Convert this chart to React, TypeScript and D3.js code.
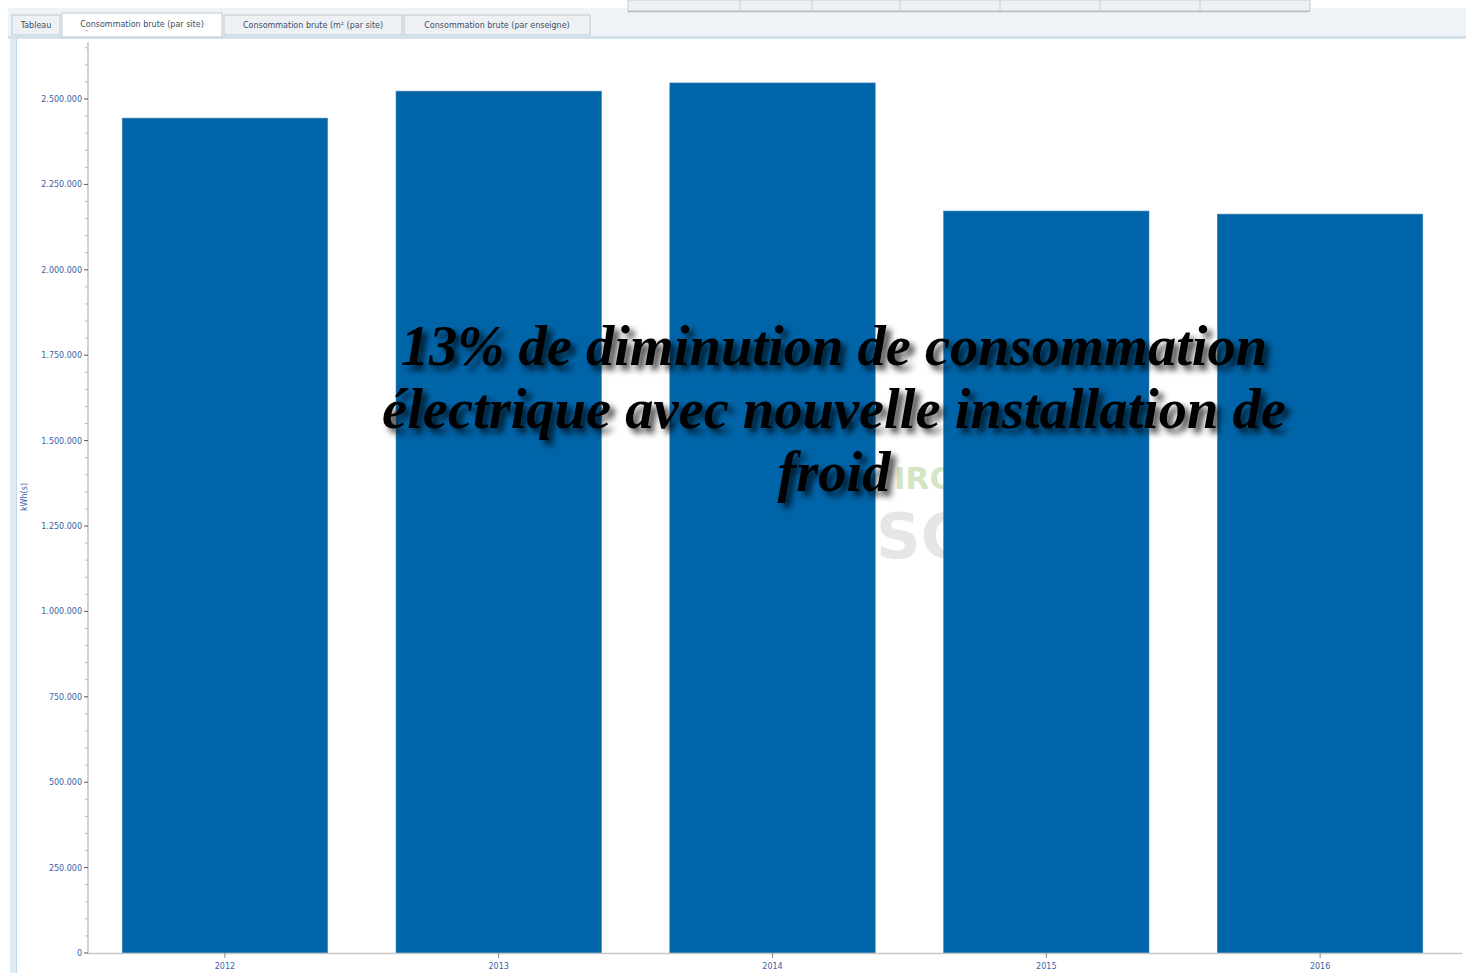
import React from "react";
import * as d3 from "d3";

const years = ["2012", "2013", "2014", "2015", "2016"];
const consumption = [2444000, 2523000, 2547000, 2172000, 2163000];
const yTicks = [0, 250000, 500000, 750000, 1000000, 1250000, 1500000, 1750000, 2000000, 2250000, 2500000];
const tabs = ["Tableau", "Consommation brute (par site)", "Consommation brute (m² (par site)", "Consommation brute (par enseigne)"];
const tabWidths = [48, 160, 178, 186];
const overlayLines = ["13% de diminution de consommation", "électrique avec nouvelle installation de", "froid"];

const W = 1466;
const H = 973;
const left = 88;
const right = 1457;
const top = 99;
const bottom = 953;

const fmt = (v: number) => d3.format(",")(v).replace(/,/g, ".");

export default function App() {
  const x = d3.scaleBand<string>().domain(years).range([left, right]).paddingInner(0.25).paddingOuter(0.125);
  const y = d3.scaleLinear().domain([0, 2500000]).range([bottom, top]);
  const minorTicks = d3.range(0, 2700001, 50000).filter((v) => v % 250000 !== 0);

  let tx = 12;
  const tabPos = tabWidths.map((w) => {
    const p = tx;
    tx += w + 2;
    return p;
  });

  return (
    <svg width={W} height={H} style={{ position: "absolute", left: 0, top: 0, background: "#fff" }}>
      <defs>
        <filter id="shadow" x="-10%" y="-30%" width="120%" height="160%">
          <feDropShadow dx="5" dy="5" stdDeviation="3" floodColor="#000" floodOpacity="0.75" />
        </filter>
      </defs>
      <rect x={0} y={0} width={W} height={H} fill="#fff" />
      {/* top toolbar */}
      <rect x={8} y={8} width={W - 8} height={30} fill="#f0f3f6" />
      <rect x={628} y={0} width={682} height={11} fill="#eef1f4" stroke="#c8cdd2" strokeWidth={1} />
      {[740, 812, 900, 1000, 1100, 1200].map((v) => (
        <line key={v} x1={v} x2={v} y1={0} y2={10} stroke="#c8cdd2" />
      ))}
      <line x1={628} x2={1310} y1={11.5} y2={11.5} stroke="#b8bcc0" strokeWidth={1.5} />
      <rect x={8} y={36} width={W - 8} height={3} fill="#d4e2ec" />
      {/* tabs */}
      {tabs.map((t, i) => (
        <g key={t}>
          <rect
            x={tabPos[i]}
            y={i === 1 ? 13 : 15}
            width={tabWidths[i]}
            height={i === 1 ? 24 : 20}
            fill={i === 1 ? "#ffffff" : "#eef1f4"}
            stroke="#b9c8d4"
            strokeWidth={1}
          />
          <text
            x={tabPos[i] + tabWidths[i] / 2}
            y={i === 1 ? 27 : 28}
            textAnchor="middle"
            fontFamily="DejaVu Sans, sans-serif"
            fontSize={8}
            fill="#3a4f6a"
          >
            {t}
          </text>
        </g>
      ))}
      {/* left panel border */}
      <rect x={10} y={39} width={6} height={H - 39} fill="#dceaf4" />
      <line x1={16.5} x2={16.5} y1={39} y2={H} stroke="#c2d8e8" />

      {/* watermark */}
      <text x={894} y={489} fontFamily="DejaVu Sans, sans-serif" fontWeight="bold" fontSize={31} fill="#d3e5c3">
        IRO
      </text>
      <text x={876} y={558} fontFamily="DejaVu Sans, sans-serif" fontWeight="bold" fontSize={62} fill="#e8e6e4">
        SC
      </text>

      {/* bars */}
      {years.map((yr, i) => (
        <rect
          key={yr}
          x={x(yr)!}
          y={y(consumption[i])}
          width={x.bandwidth()}
          height={bottom - y(consumption[i])}
          fill="#0064a8"
          stroke="#3b7fb5"
          strokeWidth={0.6}
        />
      ))}

      {/* y axis */}
      <line x1={left} x2={left} y1={42} y2={bottom} stroke="#b4b4b4" strokeWidth={1.2} />
      {minorTicks.map((v) => (
        <line key={v} x1={left - 3} x2={left} y1={y(v)} y2={y(v)} stroke="#b8b8b8" />
      ))}
      {yTicks.map((v) => (
        <g key={v}>
          <line x1={left - 4} x2={left} y1={y(v)} y2={y(v)} stroke="#555" />
          <text
            x={left - 6}
            y={y(v) + 3}
            textAnchor="end"
            fontFamily="DejaVu Sans, sans-serif"
            fontSize={8}
            fill="#3a62a8"
          >
            {fmt(v)}
          </text>
        </g>
      ))}
      <text
        transform={`translate(27,497) rotate(-90)`}
        textAnchor="middle"
        fontFamily="DejaVu Sans, sans-serif"
        fontSize={8}
        fill="#3a62a8"
      >
        kWh(s)
      </text>

      {/* x axis */}
      <line x1={left} x2={1462} y1={bottom + 0.5} y2={bottom + 0.5} stroke="#c8c8c8" strokeWidth={1.5} />
      {years.map((yr) => (
        <g key={yr}>
          <line x1={x(yr)! + x.bandwidth() / 2} x2={x(yr)! + x.bandwidth() / 2} y1={bottom} y2={bottom + 5} stroke="#888" />
          <text
            x={x(yr)! + x.bandwidth() / 2}
            y={bottom + 16}
            textAnchor="middle"
            fontFamily="DejaVu Sans, sans-serif"
            fontSize={8}
            fill="#3a62a8"
          >
            {yr}
          </text>
        </g>
      ))}

      {/* overlay annotation */}
      <g filter="url(#shadow)">
        {overlayLines.map((l, i) => (
          <text
            key={i}
            x={834}
            y={365 + i * 63}
            textAnchor="middle"
            fontFamily="Liberation Serif, Times New Roman, serif"
            fontStyle="italic"
            fontWeight="bold"
            fontSize={56.5}
            fill="#000"
          >
            {l}
          </text>
        ))}
      </g>
    </svg>
  );
}
